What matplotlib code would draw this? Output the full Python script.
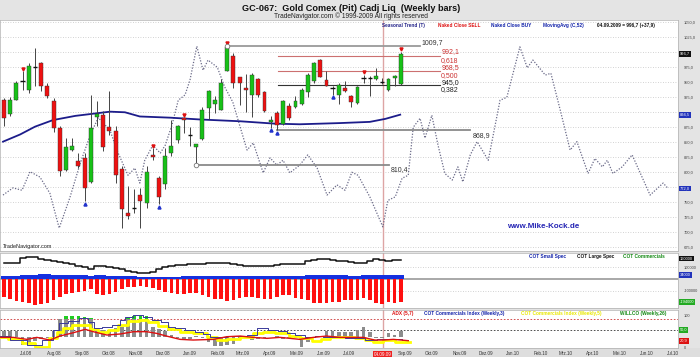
import matplotlib
matplotlib.use('Agg')
import matplotlib.pyplot as plt
from matplotlib.patches import Rectangle
from datetime import date

plt.rcParams['font.family'] = ['Liberation Sans', 'DejaVu Sans']

W, H = 700, 357

# ---- weekly candles (gold, 13.06.2008 .. 04.09.2009)
opens = [919.8, 896, 919.8, 949.5, 936.5, 974, 980.8, 942, 918.2, 872.7,
         803.5, 835.6, 817.3, 822.9, 782.4, 890.5, 894.9, 873.9, 868.3, 804.6,
         731.5, 739.8, 761.9, 747, 828.4, 789.7, 780.2, 831.2, 852.3, 888.8,
         860.6, 841.2, 854.5, 906, 913.2, 903.2, 968.6, 993, 957, 939.2,
         928.1, 954.2, 932, 882.2, 897.7, 880, 909.9, 907.7, 913.2, 932,
         950.3, 986.3, 952, 939.2, 928.1, 939.2, 925.4, 914.3, 955.8, 957.5,
         954.2, 948.6, 935.4, 956.4, 946.4]
highs = [922.6, 924.3, 951.4, 967, 980.8, 1005.7, 983.6, 947.5, 922.6, 875.5,
         856.1, 856, 831.2, 831.2, 928.1, 917, 900.4, 933.7, 875.5, 809,
         775.8, 770.3, 773, 809, 839.5, 792.4, 839.5, 886.6, 878.3, 890.5,
         874.4, 846.2, 907.7, 936.5, 925.4, 954.2, 1009.7, 997.4, 958.6, 963,
         964.2, 955.8, 933.7, 892, 900.4, 919.8, 914.3, 926.5, 939.2, 964.2,
         983.6, 988, 968.6, 942, 947.5, 950.3, 928.1, 943.1, 961.4, 959.7,
         972.5, 955.8, 955.8, 961.4, 1000.2]
lows = [875.5, 892, 918.7, 936.5, 931, 942, 933.7, 922.6, 865.5, 792.4,
        800.7, 834, 806.3, 750.9, 781.3, 875.5, 834, 861.7, 781.3, 706.6,
        720.4, 731.5, 706.6, 739.8, 820.1, 745.3, 770.3, 825.7, 847.8, 864.4,
        843.4, 810.4, 852.3, 887.7, 897.7, 902.1, 967, 939.2, 911.5, 898.8,
        891, 924.3, 898.8, 872.7, 868.9, 878.3, 886.6, 906, 911.5, 924.3,
        948.6, 957.5, 942, 928.1, 913.2, 932, 907.7, 913.2, 947.5, 926.5,
        953.1, 946.4, 933.7, 943.1, 944.8]
closes = [889.4, 919.8, 948.6, 951, 976.9, 974.5, 943.1, 925.4, 872.7, 800.7,
          841.2, 843.4, 810.1, 773, 872.7, 896, 841.2, 867.2, 795.2, 737,
          726, 740, 750.9, 799.6, 824, 758.1, 826.8, 843.4, 875.5, 885.5,
          861, 846.2, 902.1, 933.7, 919.8, 947.5, 1007.4, 947.5, 947.5, 935.4,
          961.4, 928.1, 900.4, 886.6, 878.3, 917, 889.4, 918.2, 935.4, 961.4,
          981.9, 958.6, 943.1, 939.5, 944.8, 933.7, 915.4, 940.9, 956, 955.8,
          959.7, 948.8, 954.2, 958.8, 996.7]

sell_idx = [3, 24, 29, 36, 58, 64]
buy_idx = [13, 25, 43, 44, 53]

# seasonal trend (week index, price)
sea_w = [-0.16, 1.45, 2.9, 4.2, 5.8, 7.4, 8.9, 10.6, 12.3, 13.9,
         15.2, 17.1, 18.2, 20.0, 21.1, 21.9, 22.7, 24.0, 25.2, 26.0,
         27.1, 28.1, 29.2, 30.0, 31.1, 32.1, 32.9, 34.4, 35.6, 36.9,
         38.1, 39.2, 40.2, 41.8, 42.9, 44.0, 45.0, 46.1, 47.7, 49.0,
         50.5, 52.1, 53.7, 55.0, 56.1, 57.1, 59.0, 61.1, 61.9, 63.1,
         64.2, 65.2, 66.0, 67.1, 67.9, 69.0, 70.0, 71.1, 72.3, 73.2,
         74.0, 75.2, 76.3, 78.1, 80.0, 81.1, 82.1, 83.2, 84.4, 85.3,
         87.3, 88.2, 89.7, 91.3, 92.4, 94.2, 95.3, 96.5, 97.3, 98.2,
         99.7, 101.3, 104.2, 106.3, 107.1]
sea_p = [761, 773, 769, 800, 791, 764, 706, 756, 814, 861,
         890, 869, 836, 794, 806, 781, 819, 844, 831, 844,
         878, 919, 928, 953, 1009, 969, 986, 974, 941, 916,
         874, 836, 848, 798, 823, 811, 819, 798, 811, 828,
         806, 761, 778, 769, 799, 794, 758, 708, 752, 758,
         789, 794, 874, 889, 856, 894, 844, 797, 786, 808,
         783, 828, 850, 819, 919, 924, 964, 1008, 973, 986,
         961, 964, 903, 836, 850, 797, 822, 808, 819, 797,
         808, 828, 761, 781, 772]

# moving average (C,52)
ma_w = [-0.16, 2.6, 5.0, 7.9, 11.5, 15.5, 17.1, 19.5, 21.9, 26.8,
        31.6, 38.1, 43.7, 47.7, 54.2, 59.0, 61.5, 63.9]
ma_p = [850, 862, 875, 886, 893, 898, 900, 899, 892, 890,
        887, 884, 880, 879, 881, 883, 888, 895]

# support / resistance levels: start week, end week, price
lvl_start = [36, 44.2, 44.2, 44.2, 44, 31]
lvl_end = [67.1, 70.3, 70.3, 70.3, 75.2, 62.1]
lvl_price = [1009.7, 992.1, 968.5, 945.0, 868.9, 810.4]
lvl_color = ['#9a9a9a', '#cc7070', '#cc7070', '#333333', '#8a8a8a', '#8a8a8a']

cursor_week = 61.1

# ---- COT (thousand contracts)
large_spec = [135, 138, 140, 180, 192, 185, 172, 162, 155, 144,
              135, 125, 115, 100, 87, 112, 108, 105, 98, 85,
              72, 60, 50, 52, 60, 85, 100, 112, 118, 122,
              124, 128, 130, 136, 140, 137, 135, 128, 122, 115,
              107, 108, 112, 115, 120, 124, 126, 128, 130, 150,
              164, 170, 172, 160, 155, 150, 145, 140, 135, 150,
              172, 165, 158, 160, 160]
small_spec = [25, 25, 28, 35, 38, 38, 40, 40, 38, 36,
              34, 32, 30, 30, 28, 30, 30, 28, 28, 26,
              24, 22, 20, 20, 18, 18, 20, 20, 20, 22,
              22, 22, 24, 24, 24, 25, 26, 26, 26, 28,
              28, 28, 28, 28, 28, 26, 26, 26, 28, 30,
              30, 30, 32, 32, 30, 30, 28, 28, 30, 30,
              32, 32, 34, 34, 34]
commercials = [-155, -168, -185, -195, -205, -220, -214, -205, -180, -150,
               -128, -117, -108, -100, -88, -128, -137, -128, -108, -88,
               -71, -66, -60, -66, -80, -94, -108, -122, -128, -128,
               -117, -122, -137, -150, -170, -174, -185, -180, -165, -150,
               -150, -165, -174, -168, -150, -137, -140, -165, -170, -180,
               -203, -208, -203, -194, -194, -180, -180, -180, -165, -180,
               -208, -214, -194, -208, -194]

# ---- lower indicator panel
hist_base = 31.4
hist_vals = [52, 52, 50, 8, 15, 20, 25, 28, 50, 90,
             100, 100, 100, 97, 92, 60, 55, 55, 60, 65,
             97, 98, 100, 98, 65, 57, 50, 39, 28, 23,
             25, 35, 28, 18, 3, 3, 7, 12, 31, 31,
             23, 25, 31, 34, 36, 25, 31, 31, 2, 18,
             28, 35, 50, 50, 49, 49, 49, 55, 63, 49,
             28, 31, 44, 40, 50]
blue_w = [-0.65, 2.6, 4.7, 7.4, 8.5, 9.3, 11.2, 13.1, 13.9, 15, 16.6, 18.2, 19.25,
          19.8, 21.9, 23, 24.6, 26.2, 26.8, 28.4, 30, 31.6, 32.7, 33.8, 34.8, 37,
          38.6, 39.7, 41.8, 43.4, 45.1, 46.1, 47.7, 49.4, 51, 52, 54.2, 55.8, 57.4,
          59, 61.2, 63.3, 65.2]
blue_v = [35.6, 23, 7.2, 23, 54.7, 75.7, 84.1, 91.5, 81, 60, 63.1, 70.4, 86.2,
          96.8, 102, 96.8, 86.2, 81, 65.2, 60, 54.7, 49.4, 42, 31.4, 33.5, 35.6,
          35.6, 38.8, 60, 54.7, 51.5, 46.2, 38.8, 31.4, 35.6, 33.5, 31.4, 28.3, 28.3,
          23, 25.1, 25.1, 23]
yel_w = [-0.65, 2, 3.7, 6.3, 8.2, 9, 10.1, 11.7, 13.3, 14.4, 16, 17.6, 19.25,
         20.9, 22.5, 24.1, 25.7, 27.3, 29.5, 31.6, 33.8, 34.8, 37, 39.1, 41.3, 42.4,
         45.1, 46.7, 48.8, 50.4, 52, 53.1, 55.8, 57.4, 59, 60.1, 62.3, 63.9, 65.5]
yel_v = [31.4, 25.1, 12.4, 1.9, 28.3, 49.4, 60, 70.4, 70.4, 56.8, 49.4, 54.7, 70.4,
         84.1, 86.2, 81, 67.3, 56.8, 49.4, 44.1, 31.4, 23, 25.1, 31.4, 44.1, 49.4,
         44.1, 35.6, 28.3, 20.9, 25.1, 31.4, 31.4, 28.3, 23, 17.7, 23, 17.7, 17.7]
red_w = [-0.65, 1.5, 3.7, 5.3, 7.4, 9, 11.2, 13.1, 14.4, 16.6, 18.7, 20.9, 23,
         24.6, 26.2, 28.4, 30.5, 33.8, 35.9, 38.1, 40.2, 42.4, 44.5, 46.1, 47.7,
         49.9, 52, 54.2, 55.8, 57.96, 59.8, 61.2, 62.8, 65.2]
red_v = [31.4, 31.4, 25.1, 31.4, 23, 35.6, 46.2, 56.8, 49.4, 38.8, 42, 49.4, 49.4,
         44.1, 35.6, 25.1, 23, 25.1, 33.5, 35.6, 31.4, 28.3, 31.4, 28.3, 25.1,
         31.4, 35.6, 31.4, 31.4, 31.4, 23, 23, 25.1, 20.9]

tick_labels = ["Jul.08", "Aug.08", "Sep.08", "Okt.08", "Nov.08", "Dez.08", "Jan.09",
               "Feb.09", "Mrz.09", "Apr.09", "Mai.09", "Jun.09", "Jul.09", "Sep.09",
               "Okt.09", "Nov.09", "Dez.09", "Jan.10", "Feb.10", "Mrz.10", "Apr.10",
               "Mai.10", "Jun.10", "Jul.10"]
tick_months = [(2008, 7), (2008, 8), (2008, 9), (2008, 10), (2008, 11), (2008, 12),
               (2009, 1), (2009, 2), (2009, 3), (2009, 4), (2009, 5), (2009, 6),
               (2009, 7), (2009, 9), (2009, 10), (2009, 11), (2009, 12), (2010, 1),
               (2010, 2), (2010, 3), (2010, 4), (2010, 5), (2010, 6), (2010, 7)]
first_bar = date(2008, 6, 13)


def rect(x0, y0, x1, y1):
    return [x0 / W, 1 - y1 / H, (x1 - x0) / W, (y1 - y0) / H]


def de(v, nd=1):
    return f"{v:.{nd}f}".replace('.', ',')


XLIM = (-0.645, 108.7)

fig = plt.figure(figsize=(7, 3.57), dpi=100, facecolor='#e4e4e4')

# header
fig.text(351 / W, 1 - 8.5 / H, "GC-067:  Gold Comex (Pit) Cadj Liq  (Weekly bars)",
         ha='center', va='center', fontsize=6.6, weight='bold', color='#111111')
fig.text(351 / W, 1 - 16 / H, "TradeNavigator.com \u00a9 1999-2009 All rights reserved",
         ha='center', va='center', fontsize=4.8, color='#222222')
fig.patches.append(Rectangle((0, 0), 1, 1 - 348 / H, transform=fig.transFigure,
                             facecolor='#dedede', edgecolor='none', zorder=-5))


def style(ax, ylim):
    ax.set_xlim(*XLIM)
    ax.set_ylim(*ylim)
    ax.set_facecolor('white')
    for s in ax.spines.values():
        s.set_color('#b0b0b0')
        s.set_linewidth(0.5)
    ax.yaxis.tick_right()
    ax.tick_params(axis='y', length=0, pad=4, labelsize=2.9, labelcolor='#444444')
    ax.tick_params(axis='x', length=0, labelbottom=False)
    ax.axvline(cursor_week, color='#dda4a4', lw=1.0, zorder=1)


def box(ax, y, txt, bg, fg='white'):
    ax.text(1.003, y, txt, transform=ax.get_yaxis_transform(), fontsize=2.9, color=fg,
            ha='left', va='center',
            bbox=dict(facecolor=bg, edgecolor='none', pad=0.6), clip_on=False, zorder=10)


# ---------------- main price panel
ax = fig.add_axes(rect(0, 20, 678, 250.5))
style(ax, (668.6, 1052.8))
grid = list(range(675, 1051, 25))
for g in grid:
    ax.axhline(g, color='#c4c4c4', lw=0.6, ls=(0, (1, 2)), zorder=0)
# price labels hidden behind the value boxes are left out
shown = [g for g in grid if g not in (1000, 900, 775)]
ax.set_yticks(shown)
ax.set_yticklabels([de(g) for g in shown])

ax.plot(sea_w, sea_p, color='#6a6a88', lw=0.9, ls=(0, (1, 1.3)), zorder=2)

for s, e, p, c in zip(lvl_start, lvl_end, lvl_price, lvl_color):
    lw = 1.3 if c in ('#9a9a9a', '#8a8a8a') else 0.8
    ax.plot([s, e], [p, p], color=c, lw=lw, zorder=2)

ax.plot(ma_w, ma_p, color='#1c1c8a', lw=1.3, zorder=3)

xs = list(range(len(opens)))
for i in xs:
    o, h, l, c = opens[i], highs[i], lows[i], closes[i]
    ax.vlines(i, l, h, color='#444444', lw=0.7, zorder=4)
    if abs(c - o) < 2:
        ax.hlines(c, i - 0.35, i + 0.35, color='#111111', lw=1.0, zorder=5)
    else:
        col = '#17c117' if c > o else '#ee1111'
        ax.bar(i, abs(c - o), bottom=min(o, c), width=0.62, color=col,
               edgecolor='#333333', linewidth=0.3, zorder=5)

ax.plot(sell_idx, [highs[i] + 4 for i in sell_idx], 'v', color='#dd1111', ms=2.2, zorder=6)
ax.plot(buy_idx, [lows[i] - 4 for i in buy_idx], '^', color='#2233cc', ms=2.2, zorder=6)
ax.plot([36, 31], [highs[36], lows[31]], 'o', mfc='white', mec='#777777', ms=3.3, mew=0.6,
        zorder=6)

lab_kw = dict(fontsize=5, ha='left', va='center', zorder=7)
ax.text(67.4, 1014.5, de(lvl_price[0]), color='#333333', **lab_kw)
ax.text(70.5, 999.5, de(lvl_price[1]), color='#cc3333', **lab_kw)
ax.text(70.5, 984.5, "0,618", color='#cc3333', **lab_kw)
ax.text(70.5, 972.8, de(lvl_price[2]), color='#cc3333', **lab_kw)
ax.text(70.5, 959.5, "0,500", color='#cc3333', **lab_kw)
ax.text(70.5, 947.8, de(lvl_price[3]), color='#222222', **lab_kw)
ax.text(70.5, 936.2, "0,382", color='#222222', **lab_kw)
ax.text(75.6, 859.5, de(lvl_price[4]), color='#333333', **lab_kw)
ax.text(62.3, 802.8, de(lvl_price[5]), color='#333333', **lab_kw)

for xp, txt, col in [(382, "Seasonal Trend (T)", '#222288'),
                     (438, "Naked Close SELL", '#dd1111'),
                     (491, "Naked Close BUY", '#1122aa'),
                     (543, "MovingAvg (C,52)", '#1122aa'),
                     (597, "04.09.2009 = 996,7 (+37,9)", '#111111')]:
    ax.text(xp / 678, 0.985, txt, transform=ax.transAxes, fontsize=3.4, weight='bold',
            color=col, ha='left', va='top')

ax.text(507 / 678, 1 - (227 - 20) / 230.5, "www.Mike-Kock.de", transform=ax.transAxes,
        fontsize=5.8, weight='bold', color='#2424b4', ha='left', va='center')
ax.text(3 / 678, 1 - (246.7 - 20) / 230.5, "TradeNavigator.com", transform=ax.transAxes,
        fontsize=4, color='#222222', ha='left', va='center')

box(ax, closes[-1], de(closes[-1]), '#111111')
box(ax, ma_p[-1], de(ma_p[-1] - 0.5), '#2233bb')
box(ax, sea_p[-1], de(sea_p[-1]), '#2233bb')

# ---------------- COT panel
ax2 = fig.add_axes(rect(0, 253, 678, 308))
style(ax2, (-247900, 222200))
ax2.set_yticks([100000, -100000])
ax2.set_yticklabels(["100000", "-100000"])
for g in (100000, -100000):
    ax2.axhline(g, color='#c4c4c4', lw=0.6, ls=(0, (1, 2)), zorder=0)
ax2.axhline(0, color='#9a9a9a', lw=1.2, zorder=1)
ax2.bar(xs, [v * 1000 for v in small_spec], width=1.0, color='#1530e0', zorder=2)
ax2.bar(xs, [v * 1000 for v in commercials], width=0.6, color='#ff1010', zorder=2)
ax2.step(xs, [v * 1000 for v in large_spec], where='mid', color='#111111', lw=1.1, zorder=3)
for xp, txt, col in [(529, "COT Small Spec", '#1122aa'),
                     (577, "COT Large Spec", '#111111'),
                     (623, "COT Commercials", '#118811')]:
    ax2.text(xp / 678, 0.99, txt, transform=ax2.transAxes, fontsize=3.4, weight='bold',
             color=col, ha='left', va='top')
box(ax2, large_spec[-1] * 1000 + 15000, f"{large_spec[-1] * 1000:d}", '#111111')
box(ax2, small_spec[-1] * 1000, f"{small_spec[-1] * 1000:d}", '#2233bb')
box(ax2, commercials[-1] * 1000, f"{commercials[-1] * 1000:d}", '#22aa22')

# ---------------- indicator panel
ax3 = fig.add_axes(rect(0, 310, 678, 348))
style(ax3, (-2.2, 118))
ax3.set_yticks([100, 0])
ax3.set_yticklabels(["100", "0"])
ax3.axhline(88, color='#cc3333', lw=0.6, ls=(0, (2, 2)), zorder=0)
ax3.axhline(55, color='#333333', lw=0.6, ls=(0, (2, 2)), zorder=0)
for i in xs:
    v = hist_vals[i]
    top = min(v, 88)
    ax3.bar(i, top - hist_base, bottom=hist_base, width=0.6, color='#8c8c8c', zorder=2)
    if v > 88:
        ax3.bar(i, v - 88, bottom=88, width=0.6, color='#22cc22', zorder=2)
ax3.plot(yel_w, yel_v, color='#ffff00', lw=2.0, drawstyle='steps-mid', zorder=3)
ax3.plot(blue_w, blue_v, color='#3a3a9a', lw=0.7, drawstyle='steps-mid', zorder=4)
ax3.plot(red_w, red_v, color='#dd1111', lw=1.0, zorder=4)
for xp, txt, col in [(392, "ADX (5,7)", '#dd1111'),
                     (424, "COT Commercials Index (Weekly,3)", '#1122aa'),
                     (521, "COT Commercials Index (Weekly,5)", '#e8e800'),
                     (620, "WILLCO (Weekly,26)", '#118811')]:
    ax3.text(xp / 678, 0.98, txt, transform=ax3.transAxes, fontsize=3.4, weight='bold',
             color=col, ha='left', va='top')
box(ax3, hist_vals[-1] + 5, de(hist_vals[-1]), '#22aa22')
box(ax3, red_v[-1], de(red_v[-1]), '#dd1111')

ticks = [(date(y, m, 1) - first_bar).days / 7 for y, m in tick_months]
ax3.set_xticks(ticks)
ax3.set_xticklabels(tick_labels, ha='left')
ax3.tick_params(axis='x', labelbottom=True, labelsize=3.3, pad=2.2, labelcolor='#333333')
ax3.text(cursor_week, -0.17, "04.09.09", transform=ax3.get_xaxis_transform(),
         fontsize=3.3, color='white', ha='center', va='center', clip_on=False,
         bbox=dict(facecolor='#ee2222', edgecolor='none', pad=0.5))

fig.savefig('out.png', dpi=100, facecolor=fig.get_facecolor())
